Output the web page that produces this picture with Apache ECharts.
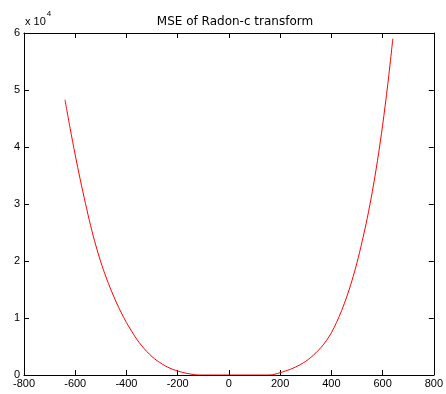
<!DOCTYPE html>
<html>
<head>
<meta charset="utf-8">
<script src="https://cdn.jsdelivr.net/npm/echarts@6/dist/echarts.min.js"></script>
<style>
html,body{margin:0;padding:0;background:#fff;}
#chart{width:446px;height:394px;}
</style>
</head>
<body>
<div id="chart"></div>
<script>
var titleText = 'MSE of Radon-c transform';
var xTicks = [-800, -600, -400, -200, 0, 200, 400, 600, 800];
var yTicks = [0, 1, 2, 3, 4, 5, 6];
var xValues = [-640,-620,-600,-580,-560,-540,-520,-500,-480,-460,-440,-420,-400,-380,-360,-340,-320,-300,-280,-260,-240,-220,-200,-180,-160,-140,-120,-100,-80,-60,-40,-20,0,20,40,60,80,100,120,140,160,180,200,220,240,260,280,300,320,340,360,380,400,420,440,460,480,500,520,540,560,580,600,620,640];
// MSE values in units of 10^4
var mseValues = [4.83,4.33,3.86,3.42,3.01,2.62,2.28,1.98,1.72,1.49,1.28,1.09,0.92,0.77,0.63,0.51,0.41,0.32,0.25,0.19,0.14,0.10,0.07,0.045,0.025,0.01,0,0,0,0,0,0,0,0,0,0,0,0,0,0,0,0.015,0.04,0.07,0.10,0.14,0.185,0.24,0.31,0.39,0.485,0.60,0.74,0.92,1.13,1.37,1.65,1.97,2.34,2.75,3.22,3.76,4.38,5.09,5.90];
var scale = 10000;

var seriesData = xValues.map(function (x, i) { return [x, mseValues[i] * scale]; });

var labelFont = { color: '#000', fontSize: 11, fontFamily: 'Liberation Sans, Arial, sans-serif' };
var axisLine = { show: true, onZero: false, lineStyle: { color: '#000', width: 1 } };
var tickIn = { show: true, inside: true, length: 5, lineStyle: { color: '#000' } };

var chart = echarts.init(document.getElementById('chart'), null, { renderer: 'canvas' });
chart.setOption({
  backgroundColor: '#fff',
  animation: false,
  title: {
    text: titleText, left: 230, top: 11, textAlign: 'center',
    textStyle: { fontSize: 12, fontWeight: 'normal', color: '#000', fontFamily: 'DejaVu Sans, sans-serif' }
  },
  graphic: [{
    type: 'text', left: 25, top: 10,
    style: {
      text: '{a|x 10}{b|4}',
      rich: {
        a: { fontSize: 11, fill: '#000', fontFamily: 'Liberation Sans, Arial, sans-serif', padding: [6, 0, 0, 0] },
        b: { fontSize: 8, fill: '#000', fontFamily: 'Liberation Sans, Arial, sans-serif', verticalAlign: 'top', padding: [0, 0, 0, 1] }
      }
    }
  }],
  grid: { left: 24, right: 10, top: 33, bottom: 19, containLabel: false, show: false },
  xAxis: [{
    type: 'value', min: xTicks[0], max: xTicks[xTicks.length - 1], interval: 200, position: 'bottom',
    axisLine: axisLine, axisTick: tickIn, splitLine: { show: false },
    axisLabel: Object.assign({ margin: 3 }, labelFont)
  }, {
    type: 'value', min: xTicks[0], max: xTicks[xTicks.length - 1], interval: 200, position: 'top',
    axisLine: axisLine, axisTick: tickIn, splitLine: { show: false }, axisLabel: { show: false }
  }],
  yAxis: [{
    type: 'value', min: yTicks[0] * scale, max: yTicks[yTicks.length - 1] * scale, interval: scale, position: 'left',
    axisLine: axisLine, axisTick: tickIn, splitLine: { show: false },
    axisLabel: Object.assign({ margin: 4, formatter: function (v) { return String(v / scale); } }, labelFont)
  }, {
    type: 'value', min: yTicks[0] * scale, max: yTicks[yTicks.length - 1] * scale, interval: scale, position: 'right',
    axisLine: axisLine, axisTick: tickIn, splitLine: { show: false }, axisLabel: { show: false }
  }],
  series: [{
    type: 'line', data: seriesData, showSymbol: false, symbol: 'none', smooth: 0.3,
    lineStyle: { color: '#ff0000', width: 1 }, clip: true
  }]
});
</script>
</body>
</html>
